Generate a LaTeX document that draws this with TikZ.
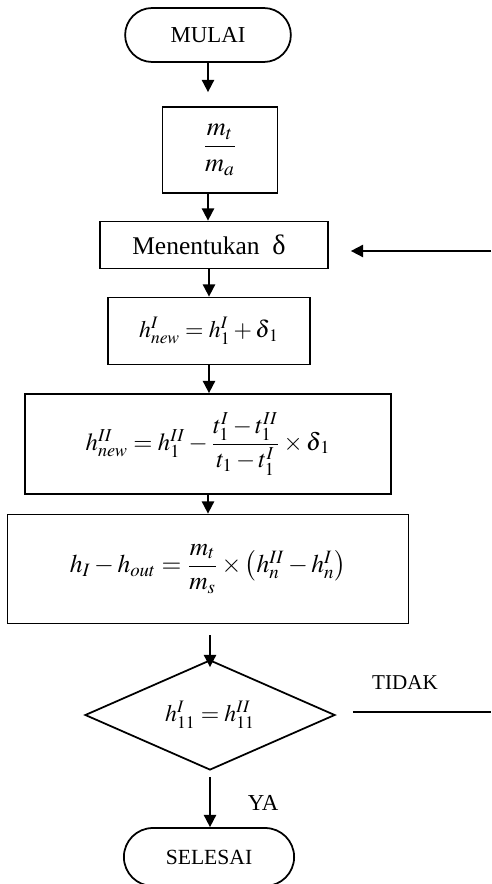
\documentclass[tikz,border=0pt]{standalone}
\usepackage{amsmath}
\usepackage{mathptmx}
\usepackage{fontspec}
\setmainfont{Liberation Serif}
\usetikzlibrary{shapes.misc,shapes.geometric,arrows.meta}

\begin{document}
\begin{tikzpicture}[x=0.02cm, y=-0.02cm,
  term/.style={rounded rectangle, draw=black, line width=1pt,
               font=\fontsize{13}{15}\selectfont,
               minimum width=3.55cm, minimum height=1.08cm},
  proc/.style={rectangle, draw=black, line width=1pt, align=center,
               font=\fontsize{14.5}{17}\selectfont, inner sep=2pt},
  cond/.style={diamond, draw=black, line width=1pt, aspect=2.27,
               minimum width=5cm, minimum height=2.2cm, inner sep=0pt,
               font=\fontsize{13.5}{15}\selectfont},
  lbl/.style={font=\fontsize{12}{14}\selectfont},
  arr/.style={-{Triangle[length=7pt,width=7pt]}, line width=1pt},
  wire/.style={line width=1pt},
]
\useasboundingbox (0,0) rectangle (491,884);

% Terminals and process boxes (coordinates in pixels of the reference)
\node[term] (start) at (208,35) {MULAI};
\node[proc, minimum width=2.3cm, minimum height=1.72cm,
      font=\fontsize{15}{17}\selectfont] (ratio) at (220,150) {$\dfrac{m_t}{m_a}$};
\node[proc, minimum width=4.56cm, minimum height=0.94cm,
      font=\fontsize{14.5}{17}\selectfont] (delta) at (214,245) {\hspace*{-0.2cm}Menentukan\ \ {\fontsize{16}{17}\selectfont δ}};
\node[proc, minimum width=4.04cm, minimum height=1.34cm,
      font=\fontsize{13.5}{16}\selectfont] (hone) at (209,331) {$h^{I}_{new} = h^{I}_{1} + \delta_{\,1}$};
\node[proc, minimum width=7.32cm, minimum height=2.0cm,
      font=\fontsize{14}{16}\selectfont] (htwo) at (208,444)
  {$h^{II}_{new} = h^{II}_{1} - \dfrac{t^{I}_{1} - t^{II}_{1}}{t_1 - t^{I}_{1}} \times \delta_{\,1}$};
\node[proc, minimum width=8.02cm, minimum height=2.18cm] (hout) at (208,569)
  {$h_I - h_{out} = \dfrac{m_t}{m_s} \times \left(h^{II}_{n} - h^{I}_{n}\right)$};

% Decision
\node[cond] (check) at (210,715) {$h^{I}_{11} = h^{II}_{11}$};
\node[term, minimum width=3.64cm, minimum height=1.16cm,
      font=\fontsize{12.3}{14}\selectfont] (stop) at (209,857) {SELESAI};

% Labels
\node[lbl] (no) at (405,683) {TIDAK};
\node[lbl, font=\fontsize{13}{15}\selectfont] (yes) at (263,803) {YA};

% Flow
\draw[arr, shorten >=0.28cm] (start.south) -- (start.south |- ratio.north);
\draw[arr] (start.south |- ratio.south) -- (start.south |- delta.north);
\draw[arr] (delta.south -| hone.north) -- (hone.north);
\draw[arr] (hone.south) -- (hone.south |- htwo.north);
\draw[arr] (htwo.south) -- (htwo.south |- hout.north);
\draw[arr, shorten <=0.22cm, shorten >=-0.16cm] (hout.south -| check.north) -- (check.north);
\draw[arr, shorten <=0.12cm] (check.south) -- (check.south |- stop.north);

% Loop back
\coordinate (back) at (491,251);
\draw[arr, shorten >=0.44cm] (back) -- (back -| delta.east);
\coordinate (noend) at (491,712);
\draw[wire, shorten <=0.34cm] (noend -| check.east) -- (noend);

\end{tikzpicture}
\end{document}
